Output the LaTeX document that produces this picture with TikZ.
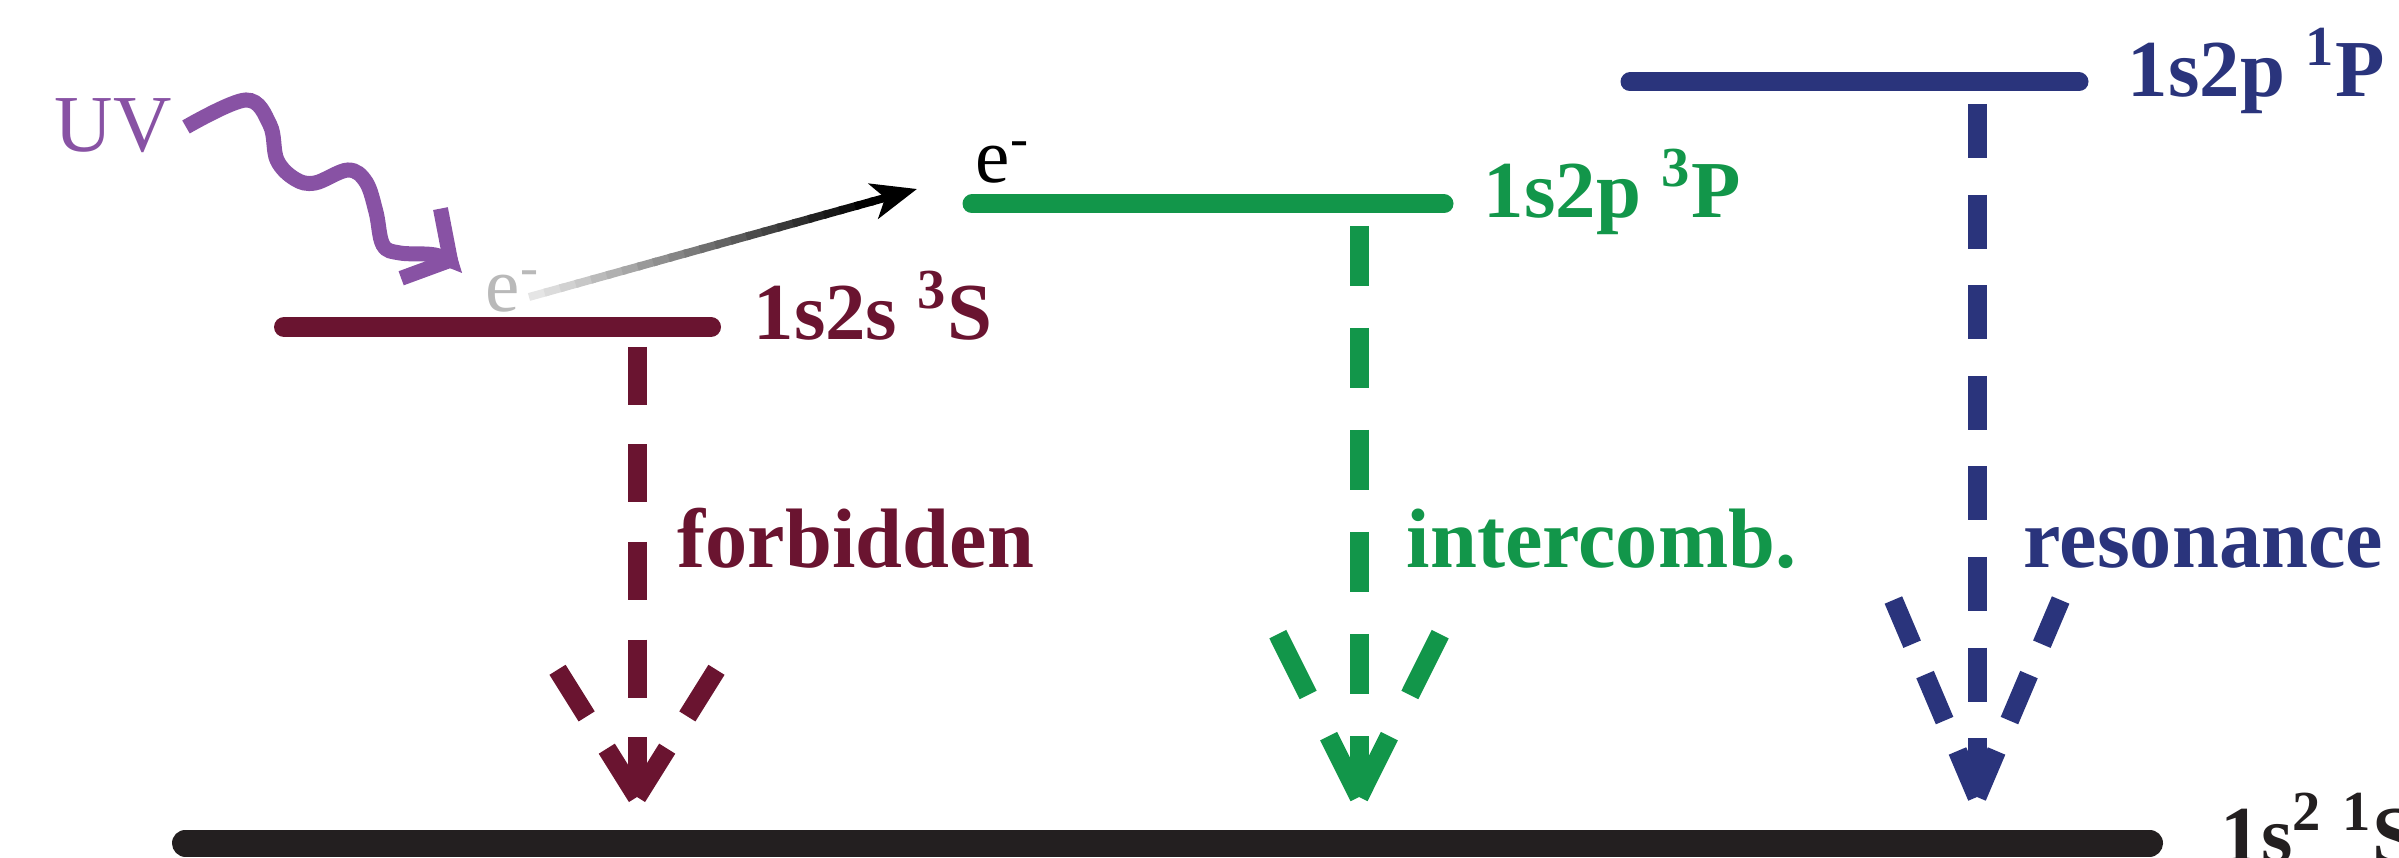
\documentclass[tikz,border=0pt]{standalone}
\usepackage{fontspec}
\setmainfont{Liberation Serif}
\usetikzlibrary{arrows.meta,calc}
\definecolor{darkmaroon}{RGB}{106,20,48}
\definecolor{darkgreen}{RGB}{18,150,74}
\definecolor{darkblue}{RGB}{42,52,124}
\definecolor{uvpurple}{RGB}{136,82,164}
\definecolor{nearblack}{RGB}{35,31,32}

\begin{document}
\begin{tikzpicture}[
    level/.style={line width=0.19cm, line cap=round},
    decay/.style={line width=0.19cm},
    lvllabel/.style={anchor=base west, inner sep=0pt, font=\fontsize{23}{28}\selectfont\bfseries},
    translabel/.style={anchor=base west, inner sep=0pt, font=\fontsize{24}{29}\selectfont\bfseries},
    elabel/.style={anchor=base west, inner sep=0pt, font=\fontsize{22}{26}\selectfont}]
    \useasboundingbox (0,0) rectangle (23.99,-8.58);
    % Levels
    \draw[level, nearblack, line width=0.27cm] (1.855,-8.43) coordinate (g1) -- (21.495,-8.43) coordinate (g2);
    \draw[level, darkmaroon, line width=0.2cm] (2.84,-3.27) coordinate (s1) -- (7.11,-3.27) coordinate (s2);
    \draw[level, darkgreen] (9.72,-2.04) coordinate (p1) -- (14.44,-2.04) coordinate (p2);
    \draw[level, darkblue] (16.30,-0.82) coordinate (r1) -- (20.79,-0.82) coordinate (r2);
    \node[lvllabel, nearblack] (lg) at (22.20,-8.62) {1s\textsuperscript{2} \textsuperscript{1}S};
    \node[lvllabel, darkmaroon] (ls) at (7.53,-3.40) {1s2s \textsuperscript{3}S};
    \node[lvllabel, darkgreen] (lp) at (14.83,-2.18) {1s2p \textsuperscript{3}P};
    \node[lvllabel, darkblue] (lr) at (21.27,-0.97) {1s2p \textsuperscript{1}P};
    % Decays
    \coordinate (f1) at (6.37,-3.47);
    \coordinate (f2) at (6.37,-7.97);
    \draw[decay, darkmaroon, dash pattern=on 0.58cm off 0.395cm] (f1) -- (f2);
    \draw[decay, darkmaroon, dash pattern=on 0.57cm off 0.38cm] (f2) -- ++(122:1.5) (f2) -- ++(58:1.5);
    \node[translabel, darkmaroon] (forb) at (6.77,-5.68) {forbidden};
    \coordinate (i1) at (13.59,-2.26);
    \coordinate (i2) at (13.59,-7.97);
    \draw[decay, darkgreen, dash pattern=on 0.60cm off 0.42cm] (i1) -- (i2);
    \draw[decay, darkgreen, dash pattern=on 0.68cm off 0.46cm] (i2) -- ++(116.5:1.82) (i2) -- ++(63.5:1.82);
    \node[translabel, darkgreen] (inter) at (14.06,-5.68) {intercomb.};
    \coordinate (n1) at (19.77,-1.04);
    \coordinate (n2) at (19.77,-7.97);
    \draw[decay, darkblue, dash pattern=on 0.54cm off 0.366cm] (n1) -- (n2);
    \draw[decay, darkblue, dash pattern=on 0.50cm off 0.33cm] (n2) -- ++(113:2.14) (n2) -- ++(67:2.14);
    \node[translabel, darkblue] (reso) at (20.23,-5.68) {resonance};
    % Photon and electron
    \node[elabel, uvpurple, font=\fontsize{23}{28}\selectfont] (uv) at (0.54,-1.52) {UV};
    \coordinate (uvs) at (1.86,-1.27);
    \coordinate (uvt) at (4.59,-2.65);
    \draw[uvpurple, line width=0.15cm, -{Straight Barb[length=0.34cm, width=0.8cm]}]
      plot[smooth, tension=0.6] coordinates {(uvs) (2.46,-1.00) (2.70,-1.25) (2.77,-1.60) (2.95,-1.79) (3.15,-1.83) (3.48,-1.70) (3.66,-1.82) (3.76,-2.12) (3.83,-2.45) (4.00,-2.53) (4.35,-2.55) (uvt)};
    \node[elabel, gray!55] (egray) at (4.85,-3.12) {e\textsuperscript{-}};
    \node[elabel, black] (eblack) at (9.75,-1.83) {e\textsuperscript{-}};
    \coordinate (es) at (5.29,-2.97);
    \coordinate (et) at (9.17,-1.89);
    \foreach \k in {0,...,21}{
      \pgfmathtruncatemacro{\grad}{10+\k*90/21}
      \draw[line width=0.08cm, black!\grad!white] ($(es)!\k/25!(et)$) -- ($(es)!\k/25+0.05!(et)$);
    }
    \draw[line width=0.08cm, black, -{Stealth[length=0.45cm, width=0.36cm, inset=0.12cm]}] ($(es)!0.88!(et)$) -- (et);
\end{tikzpicture}
\end{document}
